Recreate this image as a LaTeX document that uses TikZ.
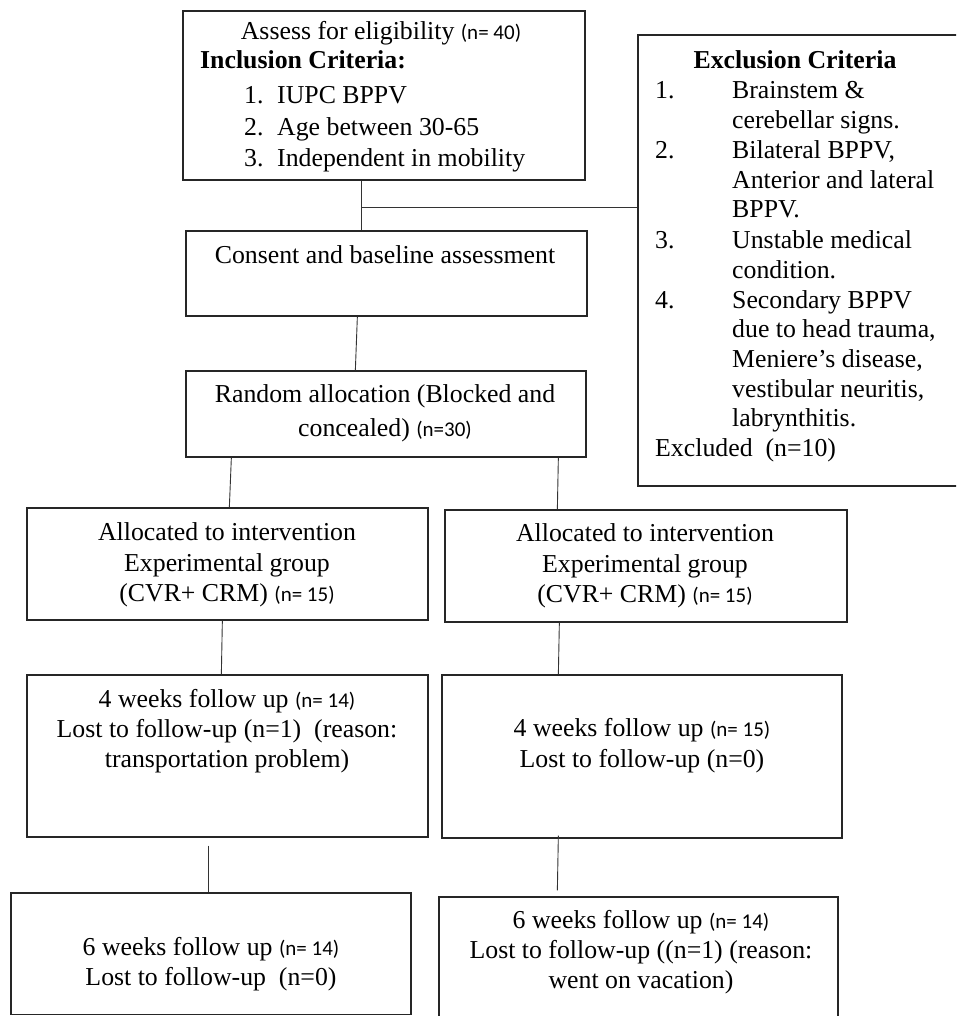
\documentclass[tikz,border=0pt]{standalone}
\usepackage{fontspec}
\setmainfont{Liberation Serif}
\newfontfamily\calib{Carlito}
\newcommand\nsm[1]{{\calib\fontsize{21}{25}\selectfont #1}}
\begin{document}
\begin{tikzpicture}[x=1pt,y=-1pt,
  box/.style={draw=black!85, line width=1.3pt, inner sep=0pt, rectangle},
  link/.style={draw=black!80, line width=0.9pt},
  txt/.style={inner sep=0pt, font=\fontsize{25.8}{30}\selectfont}]
\useasboundingbox (0,0) rectangle (956,1016);
\clip (0,0) rectangle (956,1016);
\fill[white] (0,0) rectangle (956,1016);

% boxes
\node[box, minimum width=402pt, minimum height=169pt] (top) at (384,95.5) {};
\node[box, minimum width=324pt, minimum height=451pt] (excl) at (800,260.5) {};
\node[box, minimum width=401pt, minimum height=85pt] (consent) at (386.5,273.5) {};
\node[box, minimum width=400pt, minimum height=86pt] (random) at (386,414) {};
\node[box, minimum width=401pt, minimum height=112pt] (allocL) at (227.5,564) {};
\node[box, minimum width=402pt, minimum height=112pt] (allocR) at (646,566) {};
\node[box, minimum width=401pt, minimum height=162pt] (fourL) at (227.5,756) {};
\node[box, minimum width=400pt, minimum height=163pt] (fourR) at (642,756.5) {};
\node[box, minimum width=400pt, minimum height=121.5pt] (sixL) at (211,953.75) {};
\node[box, minimum width=399pt, minimum height=125pt] (sixR) at (638.5,959.5) {};

% top box text
\node[txt, anchor=base] (t1) at (381,40) {Assess for eligibility \nsm{(n= 40)}};
\node[txt, anchor=base west] (t2) at (200,69) {\textbf{Inclusion Criteria:}};
\node[txt, anchor=base west] (t3) at (244,104) {\makebox[33pt][l]{1.}IUPC BPPV};
\node[txt, anchor=base west] (t4) at (244,136) {\makebox[33pt][l]{2.}Age between 30-65};
\node[txt, anchor=base west] (t5) at (244,167) {\makebox[33pt][l]{3.}Independent in mobility};

% exclusion text
\node[txt, anchor=base] (e0) at (795,69) {\textbf{Exclusion Criteria}};
\node[txt, anchor=base west] (e1) at (655,99) {\makebox[77pt][l]{1.}Brainstem \&};
\node[txt, anchor=base west] (e2) at (732,129) {cerebellar signs.};
\node[txt, anchor=base west] (e3) at (655,159) {\makebox[77pt][l]{2.}Bilateral BPPV,};
\node[txt, anchor=base west] (e4) at (732,189) {Anterior and lateral};
\node[txt, anchor=base west] (e5) at (732,218) {BPPV.};
\node[txt, anchor=base west] (e6) at (655,248) {\makebox[77pt][l]{3.}Unstable medical};
\node[txt, anchor=base west] (e7) at (732,278) {condition.};
\node[txt, anchor=base west] (e8) at (655,308) {\makebox[77pt][l]{4.}Secondary BPPV};
\node[txt, anchor=base west] (e9) at (732,337) {due to head trauma,};
\node[txt, anchor=base west] (e10) at (732,367) {Meniere’s disease,};
\node[txt, anchor=base west] (e11) at (732,397) {vestibular neuritis,};
\node[txt, anchor=base west] (e12) at (732,426) {labrynthitis.};
\node[txt, anchor=base west] (e13) at (655,456) {Excluded~~(n=10)};

% consent / random
\node[txt, anchor=base] (c1) at (385,263) {Consent and baseline assessment};
\node[txt, anchor=base] (r1) at (385,402) {Random allocation (Blocked and};
\node[txt, anchor=base] (r2) at (385,436) {concealed) \nsm{(n=30)}};

% allocation
\node[txt, anchor=base] (al1) at (227,540) {Allocated to intervention};
\node[txt, anchor=base] (al2) at (227,571) {Experimental group};
\node[txt, anchor=base] (al3) at (227,601) {(CVR+ CRM) \nsm{(n= 15)}};
\node[txt, anchor=base] (ar1) at (645,541) {Allocated to intervention};
\node[txt, anchor=base] (ar2) at (645,572) {Experimental group};
\node[txt, anchor=base] (ar3) at (645,602) {(CVR+ CRM) \nsm{(n= 15)}};

% 4 weeks
\node[txt, anchor=base] (fl1) at (227,707) {4 weeks follow up \nsm{(n= 14)}};
\node[txt, anchor=base] (fl2) at (227,737) {Lost to follow-up (n=1)~~(reason:};
\node[txt, anchor=base] (fl3) at (227,767) {transportation problem)};
\node[txt, anchor=base] (fr1) at (642,736) {4 weeks follow up \nsm{(n= 15)}};
\node[txt, anchor=base] (fr2) at (642,767) {Lost to follow-up (n=0)};

% 6 weeks
\node[txt, anchor=base] (sl1) at (211,955) {6 weeks follow up \nsm{(n= 14)}};
\node[txt, anchor=base] (sl2) at (211,985) {Lost to follow-up~~(n=0)};
\node[txt, anchor=base] (sr1) at (641,928) {6 weeks follow up \nsm{(n= 14)}};
\node[txt, anchor=base] (sr2) at (641,958) {Lost to follow-up ((n=1) (reason:};
\node[txt, anchor=base] (sr3) at (641,988) {went on vacation)};

% connectors
\coordinate (j) at (362,207);
\draw[link] ([xshift=179pt]top.south west) -- ([xshift=176pt]consent.north west);
\draw[link] (j) -- (excl.west |- j);
\draw[link] ([xshift=172pt]consent.south west) -- ([xshift=170pt]random.north west);
\draw[link] ([xshift=46pt]random.south west) -- ([xshift=203pt]allocL.north west);
\draw[link] ([xshift=373pt]random.south west) -- ([xshift=113pt]allocR.north west);
\draw[link] ([xshift=196pt]allocL.south west) -- ([xshift=195pt]fourL.north west);
\draw[link] ([xshift=115pt]allocR.south west) -- ([xshift=117pt]fourR.north west);
\draw[link] ([xshift=182pt,yshift=-8pt]fourL.south west) -- ([xshift=198pt]sixL.north west);
\draw[link] ([xshift=117pt,yshift=3pt]fourR.south west) -- ([xshift=119pt,yshift=6pt]sixR.north west);
\end{tikzpicture}
\end{document}
